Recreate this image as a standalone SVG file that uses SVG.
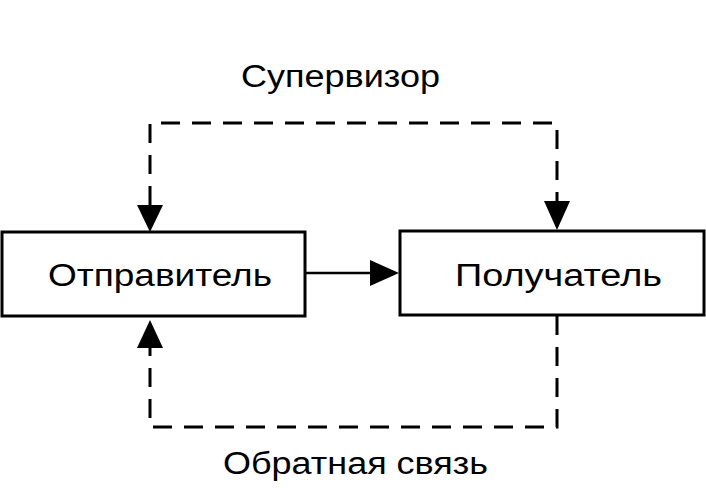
<svg xmlns="http://www.w3.org/2000/svg" width="706" height="488" viewBox="0 0 706 488">
<style>
.box{fill:#fff;stroke:#000;stroke-width:3}
.lbl{font-family:"Liberation Sans",Arial,sans-serif;font-size:31px;fill:#000}
.dash{fill:none;stroke:#000;stroke-width:3;stroke-dasharray:19 12}
.solid{fill:none;stroke:#000;stroke-width:2.5}
.head{fill:#000}
</style>
<rect width="706" height="488" fill="#fff"/>
<g id="connectors">
<path class="dash" d="M150,205 V123 H557 V201"/>
<polygon class="head" points="137,205 163,205 150,232"/>
<polygon class="head" points="544,201 570,201 557,230"/>
<path class="dash" d="M557,316 V427 H150 V348"/>
<polygon class="head" points="137,348 163,348 150,320"/>
<path class="solid" d="M305,273 H372"/>
<polygon class="head" points="370,260 370,286 399,273"/>
</g>
<g id="sender">
<rect class="box" x="2" y="232" width="303" height="84"/>
<text class="lbl" x="48" y="286" textLength="224" lengthAdjust="spacingAndGlyphs">Отправитель</text>
</g>
<g id="receiver">
<rect class="box" x="400" y="231" width="304" height="84"/>
<text class="lbl" x="455" y="286" textLength="207" lengthAdjust="spacingAndGlyphs">Получатель</text>
</g>
<text class="lbl" x="241" y="87" textLength="199" lengthAdjust="spacingAndGlyphs">Супервизор</text>
<text class="lbl" x="223" y="474" textLength="265" lengthAdjust="spacingAndGlyphs">Обратная связь</text>
</svg>
